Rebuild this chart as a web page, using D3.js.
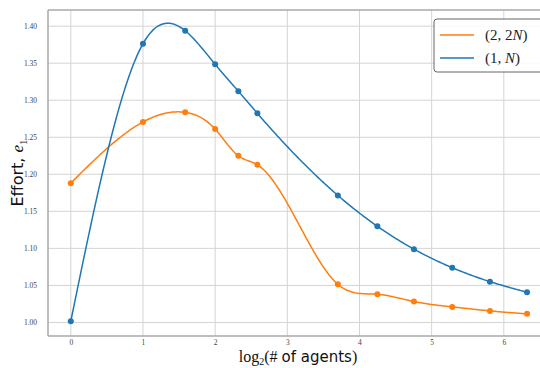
<!DOCTYPE html>
<html>
<head>
<meta charset="utf-8">
<script src="https://cdn.jsdelivr.net/npm/d3@7"></script>
<style>
  html, body { margin: 0; padding: 0; background: #fff; }
  svg { display: block; }
</style>
</head>
<body>
<svg id="chart" width="540" height="368"></svg>
<script>
// ---- data ----
const agents = [1, 2, 3, 4, 5, 6, 13, 19, 27, 39, 56, 80];
const seriesNames = ["(2, 2N)", "(1, N)"];
const effort2N = [1.188, 1.2706, 1.2836, 1.2610, 1.2249, 1.2128, 1.0515, 1.0380, 1.0282, 1.0210, 1.0156, 1.0116];
const effort1N = [1.0017, 1.3763, 1.3938, 1.3485, 1.3122, 1.2823, 1.1715, 1.1298, 1.0989, 1.0739, 1.0551, 1.0407];
const xTicks = [0, 1, 2, 3, 4, 5, 6];
const yTicks = [1.00, 1.05, 1.10, 1.15, 1.20, 1.25, 1.30, 1.35, 1.40];
const colors = ["#ff7f0e", "#1f77b4"];

(function () {
const xs = agents.map(a => Math.log2(a));
const series = [
  { name: seriesNames[0], values: effort2N, color: colors[0] },
  { name: seriesNames[1], values: effort1N, color: colors[1] }
];

// natural cubic spline through (x, y)
function naturalSpline(x, y) {
  const n = x.length;
  const h = [], al = [];
  for (let i = 0; i < n - 1; i++) h.push(x[i + 1] - x[i]);
  const l = new Array(n).fill(1), mu = new Array(n).fill(0), z = new Array(n).fill(0);
  for (let i = 1; i < n - 1; i++) {
    al[i] = 3 / h[i] * (y[i + 1] - y[i]) - 3 / h[i - 1] * (y[i] - y[i - 1]);
    l[i] = 2 * (x[i + 1] - x[i - 1]) - h[i - 1] * mu[i - 1];
    mu[i] = h[i] / l[i];
    z[i] = (al[i] - h[i - 1] * z[i - 1]) / l[i];
  }
  const c = new Array(n).fill(0), b = [], d = [];
  for (let j = n - 2; j >= 0; j--) {
    c[j] = z[j] - mu[j] * c[j + 1];
    b[j] = (y[j + 1] - y[j]) / h[j] - h[j] * (c[j + 1] + 2 * c[j]) / 3;
    d[j] = (c[j + 1] - c[j]) / (3 * h[j]);
  }
  return function (t) {
    let i = 0;
    while (i < n - 2 && t > x[i + 1]) i++;
    const dx = t - x[i];
    return y[i] + b[i] * dx + c[i] * dx * dx + d[i] * dx * dx * dx;
  };
}

// ---- layout ----
const svg = d3.select("#chart");
const pL = 48, pR = 550, pT = 10, pB = 336;
const x = d3.scaleLinear().domain([-0.316, 6.64]).range([pL, pR]);
const y = d3.scaleLinear().domain([0.9817, 1.4218]).range([pB, pT]);

// grid
svg.append("g").selectAll("line").data(xTicks).join("line")
  .attr("x1", d => x(d)).attr("x2", d => x(d)).attr("y1", pT).attr("y2", pB)
  .attr("stroke", "#d4d4d4").attr("stroke-width", 1);
svg.append("g").selectAll("line").data(yTicks).join("line")
  .attr("y1", d => y(d)).attr("y2", d => y(d)).attr("x1", pL).attr("x2", pR)
  .attr("stroke", "#d4d4d4").attr("stroke-width", 1);

// axes
const xAxis = d3.axisBottom(x).tickValues(xTicks).tickSize(0).tickPadding(4).tickFormat(d3.format("d"));
const yAxis = d3.axisLeft(y).tickValues(yTicks).tickSize(0).tickPadding(11).tickFormat(d3.format(".2f"));
const gx = svg.append("g").attr("transform", `translate(0,${pB})`).call(xAxis);
const gy = svg.append("g").attr("transform", `translate(${pL},0)`).call(yAxis);
[gx, gy].forEach(g => {
  g.select(".domain").remove();
  g.selectAll("text").attr("font-family", "'Liberation Serif', 'DejaVu Serif', serif")
    .attr("font-size", 7.5).attr("fill", "#444");
});

// spines
svg.append("line").attr("x1", pL).attr("x2", pL).attr("y1", pT).attr("y2", pB)
  .attr("stroke", "#a8a8a8").attr("stroke-width", 1.5);
svg.append("line").attr("x1", pL).attr("x2", pR).attr("y1", pB).attr("y2", pB)
  .attr("stroke", "#a8a8a8").attr("stroke-width", 1.5);
svg.append("line").attr("x1", pL).attr("x2", pR).attr("y1", pT).attr("y2", pT)
  .attr("stroke", "#a8a8a8").attr("stroke-width", 1.5);

// curves & markers
const line = d3.line().x(d => x(d[0])).y(d => y(d[1]));
series.forEach(s => {
  const f = naturalSpline(xs, s.values);
  const samples = d3.range(0, 301).map(i => {
    const t = xs[0] + (xs[xs.length - 1] - xs[0]) * i / 300;
    return [t, f(t)];
  });
  svg.append("path").datum(samples).attr("d", line)
    .attr("fill", "none").attr("stroke", s.color).attr("stroke-width", 1.5);
  svg.append("g").selectAll("circle").data(s.values).join("circle")
    .attr("cx", (d, i) => x(xs[i])).attr("cy", d => y(d)).attr("r", 3)
    .attr("fill", s.color);
});

// legend
const lg = svg.append("g");
lg.append("rect").attr("x", 434).attr("y", 19).attr("width", 120).attr("height", 53)
  .attr("rx", 3).attr("fill", "#fff").attr("fill-opacity", 0.85)
  .attr("stroke", "#555").attr("stroke-width", 0.9);
const legendItems = [
  { color: colors[0], parts: ["(2, 2", "N", ")"] },
  { color: colors[1], parts: ["(1, ", "N", ")"] }
];
legendItems.forEach((it, i) => {
  const cy = 35 + i * 23;
  lg.append("line").attr("x1", 440).attr("x2", 474).attr("y1", cy).attr("y2", cy)
    .attr("stroke", it.color).attr("stroke-width", 1.5);
  const t = lg.append("text").attr("x", 485).attr("y", cy + 5)
    .attr("font-family", "'Liberation Serif', 'DejaVu Serif', serif").attr("font-size", 15).attr("fill", "#222");
  t.append("tspan").text(it.parts[0]);
  t.append("tspan").attr("font-style", "italic").text(it.parts[1]);
  t.append("tspan").text(it.parts[2]);
});

// axis labels
const yl = svg.append("text")
  .attr("transform", `translate(23,${(pT + pB) / 2}) rotate(-90)`)
  .attr("text-anchor", "middle").attr("font-size", 16).attr("fill", "#111")
  .attr("font-family", "'DejaVu Sans', sans-serif");
yl.append("tspan").text("Effort, ");
yl.append("tspan").attr("font-family", "'Liberation Serif', serif").attr("font-style", "italic").attr("font-size", 17).text("e");
yl.append("tspan").attr("font-family", "'Liberation Serif', serif").attr("font-size", 11).attr("dy", 4).text("1");

const xl = svg.append("text")
  .attr("x", 298).attr("y", 362)
  .attr("text-anchor", "middle").attr("font-size", 15).attr("fill", "#111")
  .attr("font-family", "'DejaVu Sans', sans-serif");
xl.append("tspan").attr("font-family", "'Liberation Serif', serif").attr("font-size", 16).text("log");
xl.append("tspan").attr("font-family", "'Liberation Serif', serif").attr("font-size", 10).attr("dy", 3).text("2");
xl.append("tspan").attr("font-family", "'Liberation Serif', serif").attr("font-size", 16).attr("dy", -3).text("(# ");
xl.append("tspan").text("of agents");
xl.append("tspan").attr("font-family", "'Liberation Serif', serif").attr("font-size", 16).text(")");
})();
</script>
</body>
</html>
